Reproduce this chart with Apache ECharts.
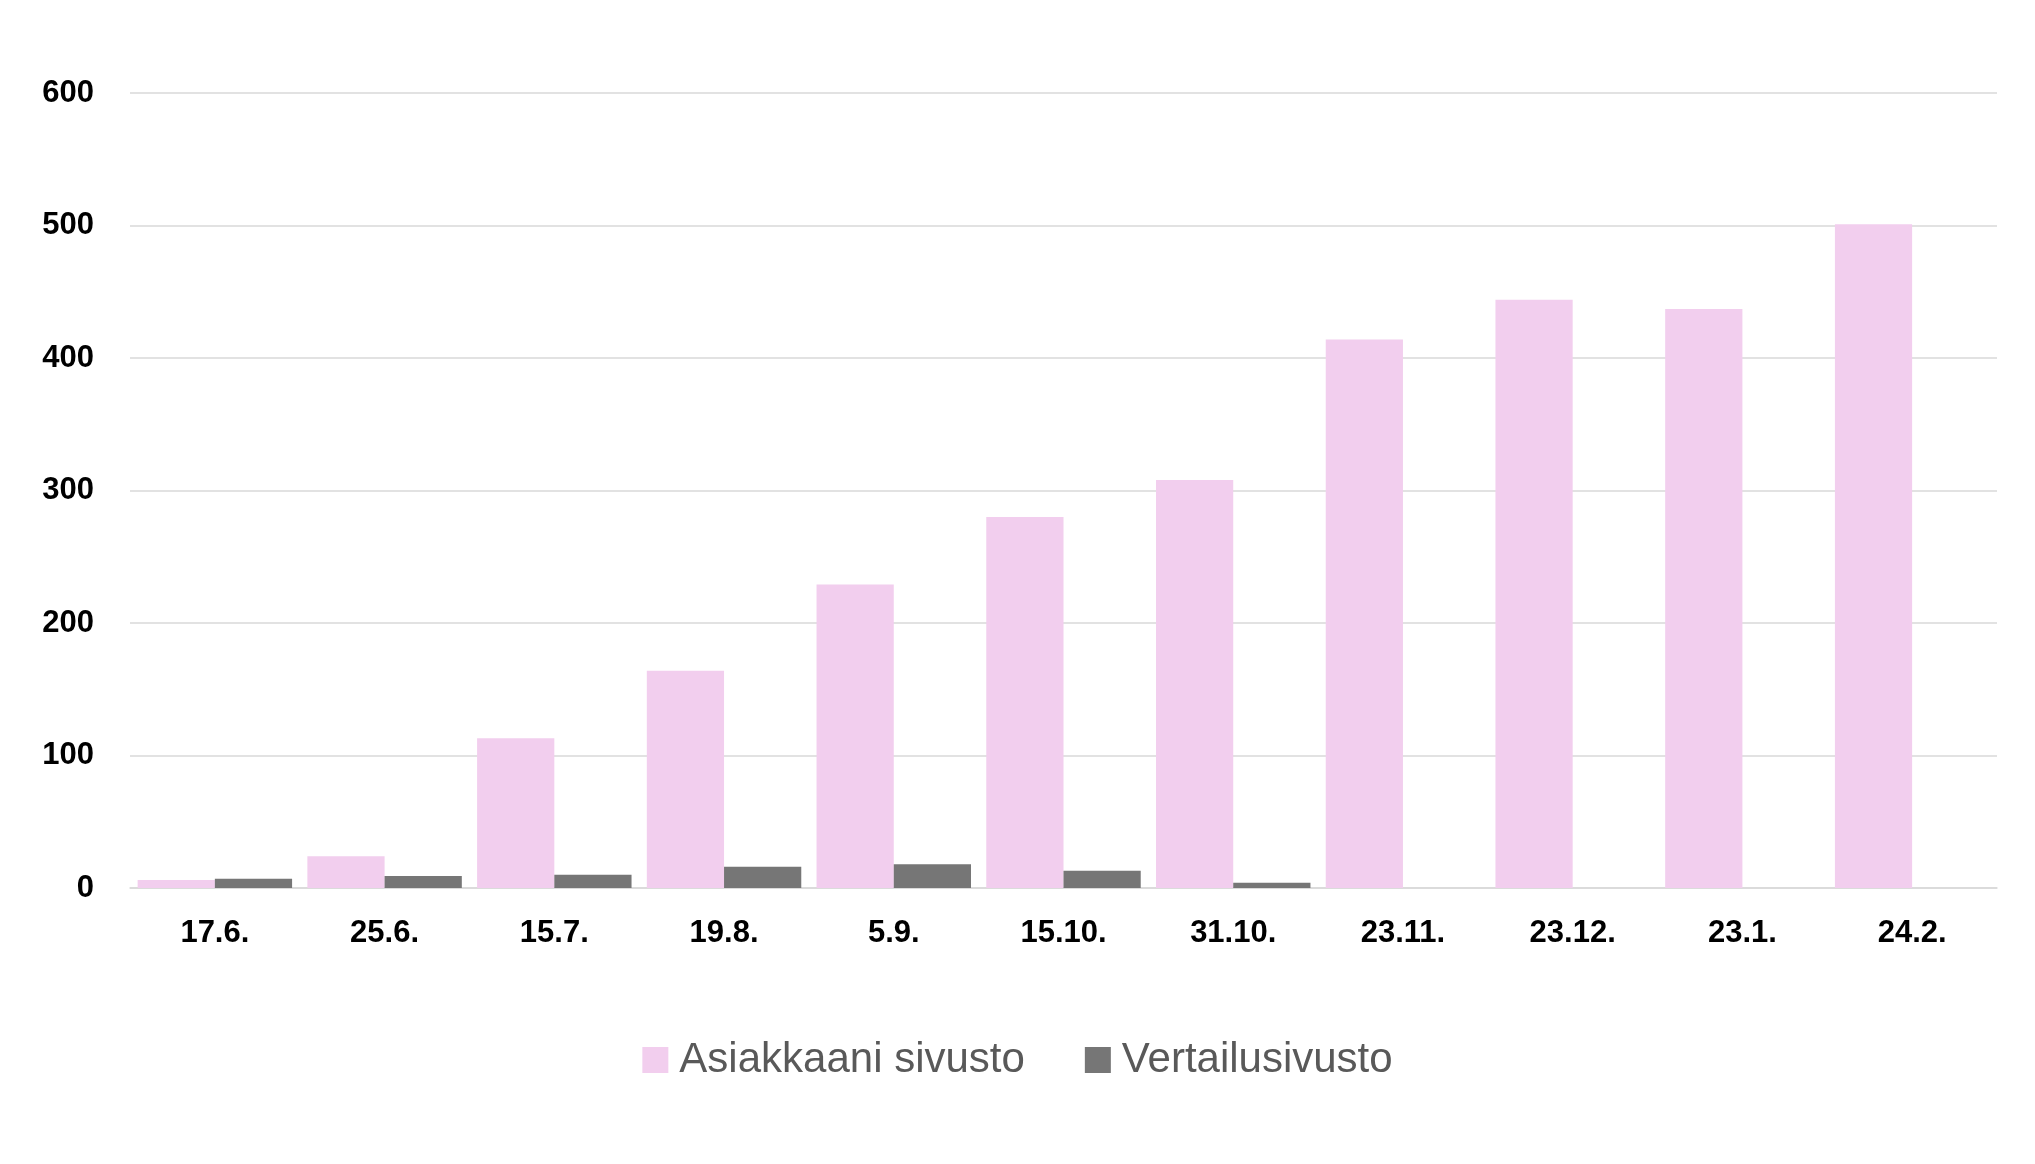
<!DOCTYPE html>
<html><head><meta charset="utf-8">
<script src="https://cdn.jsdelivr.net/npm/echarts@6/dist/echarts.min.js"></script>
<style>html,body{margin:0;padding:0;background:#fff}#c{width:2035px;height:1164px}</style>
</head><body><div id="c"></div>
<script>
const categories = ['17.6.','25.6.','15.7.','19.8.','5.9.','15.10.','31.10.','23.11.','23.12.','23.1.','24.2.'];
const asiakkaani = [6,24,113,164,229,280,308,414,444,437,501];
const vertailu = [7,9,10,16,18,13,4,0,0,0,0];
const yTicks = [0,100,200,300,400,500,600];

const chart = echarts.init(document.getElementById('c'));
chart.setOption({
  animation:false,
  backgroundColor:'#fff',
  grid:{left:130,right:38,top:93,bottom:276,containLabel:false},
  legend:{
    bottom:78,left:'center',itemWidth:26,itemHeight:26,itemGap:60,icon:'rect',
    textStyle:{fontFamily:'Liberation Sans, Arial, sans-serif',fontSize:42,color:'#595959',padding:[0,0,0,6]},
    data:['Asiakkaani sivusto','Vertailusivusto']
  },
  xAxis:{type:'category',data:categories,
    axisLine:{lineStyle:{color:'#d9d9d9',width:1.5}},axisTick:{show:false},
    axisLabel:{margin:30,fontFamily:'Liberation Sans, Arial, sans-serif',fontWeight:'bold',fontSize:31,color:'#000'}},
  yAxis:{type:'value',min:yTicks[0],max:yTicks[yTicks.length-1],interval:100,
    splitLine:{lineStyle:{color:'#d9d9d9',width:1.5}},axisLine:{show:false},axisTick:{show:false},
    axisLabel:{margin:36,fontFamily:'Liberation Sans, Arial, sans-serif',fontWeight:'bold',fontSize:31,color:'#000'}},
  series:[
    {name:'Asiakkaani sivusto',type:'bar',data:asiakkaani,itemStyle:{color:'#F2CEEE'},barGap:'0%',barCategoryGap:'9%'},
    {name:'Vertailusivusto',type:'bar',data:vertailu,itemStyle:{color:'#767676'}}
  ]
});
</script></body></html>
